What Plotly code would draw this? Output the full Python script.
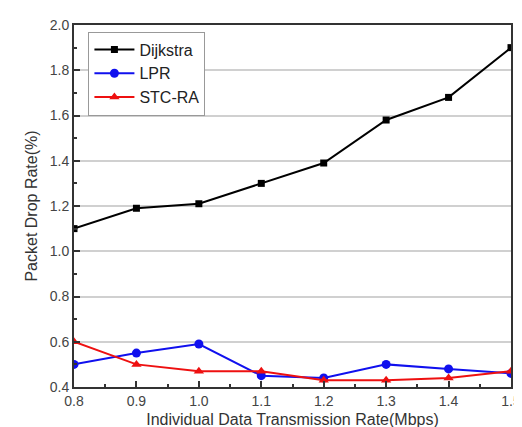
import plotly.graph_objects as go

x_rates = [0.8, 0.9, 1.0, 1.1, 1.2, 1.3, 1.4, 1.5]
dijkstra = [1.10, 1.19, 1.21, 1.30, 1.39, 1.58, 1.68, 1.90]
lpr = [0.50, 0.55, 0.59, 0.45, 0.44, 0.50, 0.48, 0.46]
stc_ra = [0.60, 0.50, 0.47, 0.47, 0.43, 0.43, 0.44, 0.47]

x_ticks = [0.8, 0.9, 1.0, 1.1, 1.2, 1.3, 1.4, 1.5]
x_tick_labels = ["0.8", "0.9", "1.0", "1.1", "1.2", "1.3", "1.4", "1.5"]
y_ticks = [0.4, 0.6, 0.8, 1.0, 1.2, 1.4, 1.6, 1.8, 2.0]
y_tick_labels = ["0.4", "0.6", "0.8", "1.0", "1.2", "1.4", "1.6", "1.8", "2.0"]

fig = go.Figure()
fig.add_trace(go.Scatter(x=x_rates, y=dijkstra, name="Dijkstra", mode="lines+markers",
                         line=dict(color="black", width=2),
                         marker=dict(symbol="square", size=7, color="black")))
fig.add_trace(go.Scatter(x=x_rates, y=lpr, name="LPR", mode="lines+markers",
                         line=dict(color="#1010ee", width=2),
                         marker=dict(symbol="circle", size=9, color="#1010ee")))
fig.add_trace(go.Scatter(x=x_rates, y=stc_ra, name="STC-RA", mode="lines+markers",
                         line=dict(color="#ee1010", width=2),
                         marker=dict(symbol="triangle-up", size=9, color="#ee1010")))

font_family = "Liberation Sans, Arial, sans-serif"

fig.update_layout(
    width=522, height=427,
    margin=dict(l=66, r=9, t=16, b=47),
    paper_bgcolor="white", plot_bgcolor="white",
    font=dict(family=font_family, color="#333333"),
    showlegend=True,
    legend=dict(x=0.033, y=0.982, xanchor="left", yanchor="top",
                bordercolor="#999999", borderwidth=1, bgcolor="white",
                font=dict(size=16, color="#222222"),
                tracegroupgap=0, itemwidth=40),
    xaxis=dict(range=[0.8, 1.5], tickvals=x_ticks, ticktext=x_tick_labels,
               showline=True, linecolor="#333333", linewidth=2, mirror=True,
               ticks="inside", ticklen=6, tickwidth=1.5, tickcolor="#333333",
               minor=dict(dtick=0.05, ticks="inside", ticklen=3, tickcolor="#333333", showgrid=False),
               showgrid=False, zeroline=False,
               tickfont=dict(size=14, color="#444444"),
               title=dict(text="Individual Data Transmission Rate(Mbps)", font=dict(size=16, color="#333333"), standoff=6)),
    yaxis=dict(range=[0.4, 2.0], tickvals=y_ticks, ticktext=y_tick_labels,
               showline=True, linecolor="#333333", linewidth=2, mirror=True,
               ticks="inside", ticklen=6, tickwidth=1.5, tickcolor="#333333",
               minor=dict(dtick=0.1, ticks="inside", ticklen=3, tickcolor="#333333", showgrid=False),
               showgrid=True, gridcolor="#d0d0d0", gridwidth=1.5, zeroline=False,
               tickfont=dict(size=14, color="#444444"),
               title=dict(text="Packet Drop Rate(%)", font=dict(size=16, color="#333333"), standoff=8)),
)

fig.write_html("out.html")
